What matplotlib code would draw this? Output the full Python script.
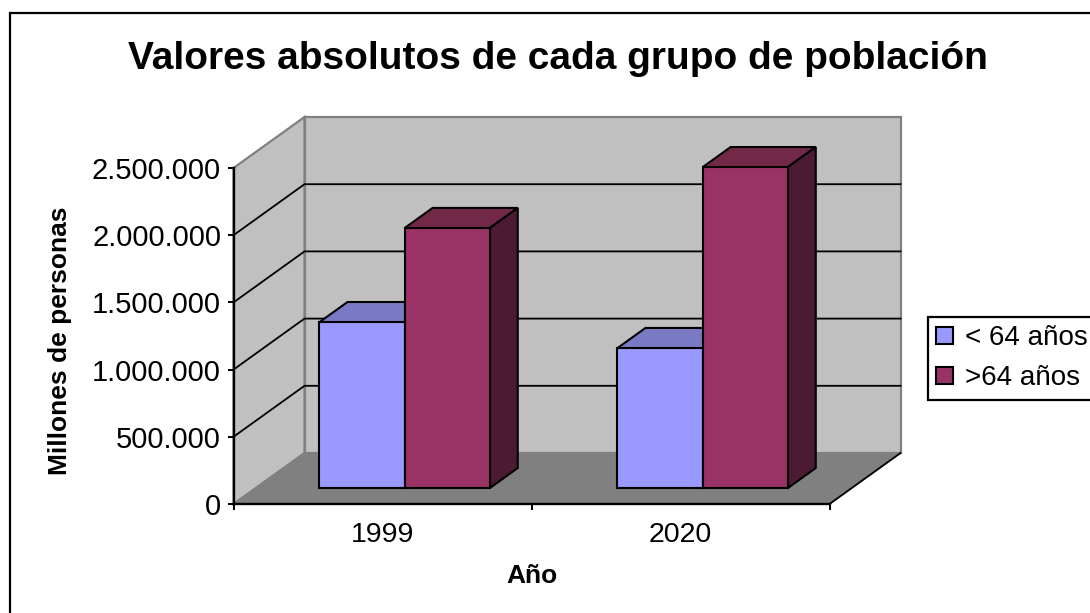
import matplotlib
matplotlib.use('Agg')
import matplotlib.pyplot as plt
from matplotlib.patches import Patch, Polygon, Rectangle

plt.rcParams['font.family'] = ['Liberation Sans', 'DejaVu Sans']

years = ['1999', '2020']
under_64 = [1235000, 1042000]
over_64 = [1935000, 2388000]
y_ticks = [0, 500000, 1000000, 1500000, 2000000, 2500000]
series_names = ['< 64 años', '>64 años']

W, H = 1090, 613
Y_MAX = 2500000

# oblique depth of the fake 3d box, in data units
DX = 71 / 298
DY = 51 / 336 * Y_MAX
BAR_FRONT = 0.31
BAR_BACK = 0.706
BAR_W = 1 / 3.5


def proj(x, y, d):
    return (x + d * DX, y + d * DY)


def poly(ax, pts, color, edge='black', lw=1.5, z=3):
    ax.add_patch(Polygon(pts, closed=True, facecolor=color, edgecolor=edge,
                         linewidth=lw, joinstyle='miter', clip_on=False, zorder=z))


def draw_bar(ax, x, val, front, top, side, z):
    x2 = x + BAR_W
    poly(ax, [proj(x, val, BAR_FRONT), proj(x2, val, BAR_FRONT),
              proj(x2, val, BAR_BACK), proj(x, val, BAR_BACK)], top, z=z)
    poly(ax, [proj(x2, 0, BAR_FRONT), proj(x2, val, BAR_FRONT),
              proj(x2, val, BAR_BACK), proj(x2, 0, BAR_BACK)], side, z=z)
    poly(ax, [proj(x, 0, BAR_FRONT), proj(x2, 0, BAR_FRONT),
              proj(x2, val, BAR_FRONT), proj(x, val, BAR_FRONT)], front, z=z)


fig = plt.figure(figsize=(W / 100, H / 100), dpi=100, facecolor='white')
ax = fig.add_axes([233.5 / W, (H - 504) / H, 596 / W, 336 / H])
ax.set_xlim(0, 2)
ax.set_ylim(0, Y_MAX)
ax.patch.set_visible(False)

fig.add_artist(Rectangle((10 / W, -0.05), 1.1, 1 + 0.05 - 13 / H, transform=fig.transFigure,
                         fill=False, edgecolor='black', linewidth=1.6))

# walls and floor
wall_grey = '#C0C0C0'
edge_grey = '#808080'
poly(ax, [proj(0, 0, 1), proj(2, 0, 1), proj(2, Y_MAX, 1), proj(0, Y_MAX, 1)],
     wall_grey, edge=edge_grey, lw=1.6, z=1)
poly(ax, [proj(0, 0, 0), proj(0, 0, 1), proj(0, Y_MAX, 1), proj(0, Y_MAX, 0)],
     wall_grey, edge=edge_grey, lw=1.6, z=1)
poly(ax, [proj(0, 0, 0), proj(2, 0, 0), proj(2, 0, 1), proj(0, 0, 1)],
     edge_grey, edge=edge_grey, lw=1.0, z=1.2)
a, b = proj(2, 0, 0), proj(2, 0, 1)
ax.plot([a[0], b[0]], [a[1], b[1]], color='black', lw=1.3, clip_on=False, zorder=1.3)

for v in y_ticks[1:-1]:
    p0, p1, p2 = proj(0, v, 0), proj(0, v, 1), proj(2, v, 1)
    ax.plot([p0[0], p1[0], p2[0]], [p0[1], p1[1], p2[1]], color='black', lw=1.3,
            clip_on=False, zorder=1.5, solid_joinstyle='miter')

# bars
for i in range(len(years)):
    x0 = i + 0.75 * BAR_W
    draw_bar(ax, x0, under_64[i], '#9999FF', '#7A7AC4', '#4D4D80', 3)
    draw_bar(ax, x0 + BAR_W, over_64[i], '#993366', '#722948', '#4D1A33', 3.1)

# axes
ax.spines['top'].set_visible(False)
ax.spines['right'].set_visible(False)
for s in ('left', 'bottom'):
    ax.spines[s].set_linewidth(1.7)
    ax.spines[s].set_zorder(4)

ax.set_yticks(y_ticks)
ax.set_yticklabels([f'{v:,}'.replace(',', '.') for v in y_ticks], fontsize=21)
ax.set_xticks([0, 1, 2])
ax.set_xticklabels([])
ax.set_xticks([0.5, 1.5], labels=years, minor=True, fontsize=20.5)
ax.tick_params(axis='both', which='major', direction='out', length=4, width=1.4, pad=5)
ax.tick_params(axis='x', which='minor', length=0, pad=13)

ax.set_xlabel('Año', fontsize=19, fontweight='bold', va='center')
ax.xaxis.set_label_coords(0.5, -(576 - 504) / 336)
ax.set_ylabel('Millones de personas', fontsize=19, fontweight='bold', va='center')
ax.yaxis.set_label_coords((61 - 234) / 596, (504 - 341) / 336)

fig.text(558 / W, 1 - 59 / H, 'Valores absolutos de cada grupo de población',
         fontsize=28, fontweight='bold', ha='center', va='center')

handles = [Patch(facecolor='#9999FF', edgecolor='black', linewidth=1.5),
           Patch(facecolor='#993366', edgecolor='black', linewidth=1.5)]
leg = ax.legend(handles, series_names, loc='upper left',
                bbox_to_anchor=(928 / W, 1 - 317 / H), bbox_transform=fig.transFigure,
                borderaxespad=0, fontsize=20, fancybox=False, framealpha=1,
                edgecolor='black', handlelength=0.61, handleheight=0.54,
                handletextpad=0.42, labelspacing=0.5, borderpad=0.3)
leg.get_frame().set_linewidth(1.6)

fig.savefig('out.png', dpi=100)
